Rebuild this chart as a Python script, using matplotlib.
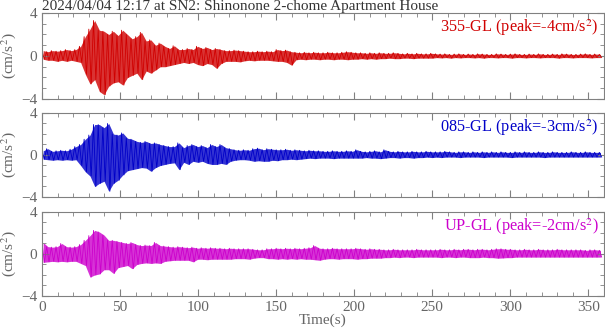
import numpy as np
import matplotlib
matplotlib.use('Agg')
import matplotlib.pyplot as plt
from matplotlib.ticker import MultipleLocator

plt.rcParams['font.family'] = ['Liberation Serif', 'DejaVu Serif']
plt.rcParams['mathtext.fontset'] = 'stix'

# Envelope (max / min) of each trace, read every 3 s from the picture
t_bins = np.arange(0, 360, 3)

ns_hi = [0.5, 0.4, 0.5, 0.45, 0.5, 0.6, 0.5, 0.6,
         0.9, 1.8, 2.5, 3.3, 2.4, 2.3, 2.0, 2.3, 1.9, 2.4, 2.0, 1.6, 1.8, 2.2, 1.4, 1.5,
         1.0, 1.2, 0.9, 0.7, 0.95, 0.6, 0.6, 0.7, 0.6, 0.9, 0.7, 0.8, 0.6, 0.7, 0.6, 0.5,
         0.5, 0.55, 0.5, 0.45, 0.4, 0.4, 0.45, 0.4, 0.45, 0.4, 0.6, 0.5, 0.55, 0.4,
         0.35, 0.3, 0.35, 0.3, 0.35, 0.3, 0.3, 0.35, 0.3, 0.3, 0.35, 0.4,
         0.35, 0.3, 0.3, 0.25, 0.3, 0.25, 0.3, 0.25, 0.25, 0.3, 0.25, 0.2, 0.25, 0.2, 0.25, 0.2, 0.2, 0.25,
         0.2, 0.18, 0.2, 0.15, 0.18, 0.2, 0.15, 0.18, 0.15, 0.2, 0.18, 0.15, 0.15, 0.2, 0.18, 0.15, 0.18, 0.2,
         0.15, 0.15, 0.18, 0.15, 0.2, 0.15, 0.15, 0.18, 0.15, 0.2, 0.18, 0.15, 0.15, 0.18, 0.2, 0.15, 0.18, 0.15]
ns_lo = [-0.3, -0.4, -0.4, -0.5, -0.4, -0.5, -0.4, -0.5,
         -0.6, -1.7, -2.6, -2.2, -3.3, -3.6, -2.8, -2.5, -2.4, -2.7, -2.0, -1.8, -1.6, -2.2, -1.4, -1.6,
         -1.3, -1.0, -1.0, -0.9, -0.8, -0.7, -0.6, -0.7, -0.6, -0.8, -0.9, -0.7, -0.8, -1.15, -0.7, -0.5,
         -0.5, -0.5, -0.55, -0.45, -0.4, -0.45, -0.4, -0.4, -0.4, -0.45, -0.5, -0.5, -0.6, -0.85,
         -0.35, -0.3, -0.35, -0.3, -0.3, -0.35, -0.3, -0.3, -0.35, -0.3, -0.3, -0.35,
         -0.3, -0.3, -0.25, -0.3, -0.25, -0.3, -0.25, -0.25, -0.2, -0.25, -0.25, -0.2, -0.2, -0.25, -0.2, -0.2, -0.2, -0.2,
         -0.15, -0.18, -0.15, -0.2, -0.15, -0.18, -0.15, -0.15, -0.18, -0.15, -0.2, -0.15, -0.15, -0.18, -0.15, -0.15, -0.2, -0.15,
         -0.15, -0.18, -0.15, -0.15, -0.18, -0.15, -0.15, -0.15, -0.2, -0.15, -0.15, -0.18, -0.15, -0.15, -0.15, -0.18, -0.15, -0.15]

ew_hi = [0.4, 0.6, 0.35, 0.4, 0.45, 0.4, 0.55, 0.8,
         1.0, 1.5, 1.9, 2.9, 2.9, 2.6, 3.0, 2.0, 1.9, 2.1, 1.6, 1.5, 1.3, 1.2, 1.3, 1.1,
         1.15, 1.0, 0.9, 0.8, 0.8, 1.15, 0.7, 0.9, 1.0, 0.8, 0.9, 0.7, 1.0, 0.8, 1.0, 0.7,
         0.6, 0.5, 0.45, 0.5, 0.45, 0.6, 0.65, 0.5, 0.6, 0.55, 0.5, 0.5, 0.55, 0.45,
         0.5, 0.45, 0.4, 0.45, 0.4, 0.4, 0.35, 0.35, 0.4, 0.35, 0.35, 0.4,
         0.35, 0.5, 0.35, 0.3, 0.35, 0.4, 0.3, 0.5, 0.35, 0.3, 0.35, 0.3, 0.3, 0.35, 0.3, 0.3, 0.35, 0.3,
         0.3, 0.3, 0.35, 0.3, 0.25, 0.3, 0.3, 0.25, 0.3, 0.25, 0.3, 0.25, 0.3, 0.25, 0.3, 0.25, 0.25, 0.3,
         0.25, 0.3, 0.25, 0.25, 0.3, 0.25, 0.25, 0.3, 0.25, 0.25, 0.25, 0.3, 0.25, 0.25, 0.3, 0.25, 0.25, 0.25]
ew_lo = [-0.4, -0.45, -0.5, -0.45, -0.5, -0.45, -0.5, -0.45,
         -1.0, -1.6, -2.0, -3.0, -2.7, -2.5, -3.45, -2.7, -2.4, -1.9, -1.5, -1.4, -1.3, -1.2, -1.25, -1.55,
         -1.2, -1.0, -0.9, -0.8, -0.75, -1.4, -0.7, -0.9, -0.6, -0.7, -0.6, -0.8, -0.9, -0.9, -0.8, -0.9,
         -0.6, -0.5, -0.45, -0.45, -0.5, -0.6, -0.55, -0.6, -0.6, -0.5, -0.55, -0.45, -0.45, -0.4,
         -0.45, -0.4, -0.35, -0.3, -0.35, -0.3, -0.3, -0.3, -0.35, -0.3, -0.3, -0.3,
         -0.3, -0.3, -0.3, -0.25, -0.3, -0.3, -0.35, -0.3, -0.25, -0.25, -0.3, -0.25, -0.25, -0.3, -0.25, -0.25, -0.2, -0.25,
         -0.2, -0.25, -0.2, -0.2, -0.2, -0.25, -0.2, -0.2, -0.2, -0.2, -0.25, -0.2, -0.2, -0.2, -0.2, -0.2, -0.25, -0.2,
         -0.2, -0.2, -0.2, -0.2, -0.2, -0.25, -0.2, -0.2, -0.2, -0.2, -0.2, -0.2, -0.2, -0.2, -0.2, -0.2, -0.2, -0.2]

ud_hi = [1.1, 0.7, 0.65, 0.7, 1.0, 0.7, 0.65, 0.7,
         0.9, 1.3, 1.75, 2.25, 2.1, 1.8, 1.3, 1.3, 1.2, 1.1, 1.0, 1.1, 0.9, 0.8, 0.85, 0.8,
         1.1, 0.8, 0.75, 0.7, 0.65, 0.7, 0.65, 0.6, 0.65, 0.55, 0.6, 0.55, 0.6, 0.55, 0.55, 0.5,
         0.55, 0.5, 0.5, 0.5, 0.5, 0.45, 0.4, 0.4, 0.5, 0.5, 0.55, 0.5, 0.55, 0.5,
         0.55, 0.5, 0.55, 0.6, 0.8, 0.55, 0.5, 0.5, 0.55, 0.5, 0.5, 0.5,
         0.5, 0.55, 0.5, 0.45, 0.5, 0.45, 0.45, 0.4, 0.4, 0.45, 0.4, 0.4, 0.4, 0.4, 0.45, 0.4, 0.4, 0.4,
         0.4, 0.45, 0.4, 0.4, 0.45, 0.4, 0.45, 0.45, 0.4, 0.45, 0.45, 0.4, 0.45, 0.5, 0.5, 0.45, 0.45, 0.4,
         0.4, 0.45, 0.4, 0.4, 0.45, 0.4, 0.4, 0.4, 0.45, 0.4, 0.4, 0.4, 0.4, 0.4, 0.35, 0.4, 0.4, 0.35]
ud_lo = [-0.8, -0.75, -0.7, -0.75, -0.7, -0.75, -0.7, -0.7,
         -0.9, -1.1, -2.2, -2.0, -1.9, -1.5, -1.5, -1.85, -1.3, -1.2, -1.1, -1.4, -1.0, -0.9, -0.85, -0.9,
         -0.85, -0.9, -0.7, -0.65, -0.6, -0.6, -0.6, -0.6, -0.75, -0.5, -0.5, -0.55, -0.5, -0.5, -0.5, -0.5,
         -0.5, -0.45, -0.45, -0.45, -0.5, -0.4, -0.35, -0.35, -0.45, -0.45, -0.5, -0.45, -0.5, -0.45,
         -0.5, -0.45, -0.5, -0.5, -0.55, -0.6, -0.5, -0.45, -0.45, -0.5, -0.45, -0.45,
         -0.45, -0.5, -0.45, -0.45, -0.4, -0.4, -0.4, -0.35, -0.35, -0.3, -0.35, -0.3, -0.3, -0.35, -0.3, -0.3, -0.3, -0.3,
         -0.3, -0.35, -0.3, -0.3, -0.35, -0.3, -0.3, -0.35, -0.35, -0.35, -0.3, -0.35, -0.35, -0.4, -0.38, -0.35, -0.35, -0.3,
         -0.3, -0.3, -0.3, -0.3, -0.3, -0.3, -0.3, -0.3, -0.3, -0.3, -0.3, -0.3, -0.3, -0.3, -0.3, -0.3, -0.3, -0.3]

components = ['355-GL', '085-GL', 'UP-GL']
peaks = [-4, -3, -2]
colors = ['#d00000', '#0000c8', '#cc00cc']
highs = [ns_hi, ew_hi, ud_hi]
lows = [ns_lo, ew_lo, ud_lo]

title = '2024/04/04 12:17 at SN2: Shinonone 2-chome Apartment House'

fig = plt.figure(figsize=(6.05, 3.34), dpi=100)
boxes = [(0.0694, 0.7036, 0.929, 0.2575),
         (0.0694, 0.4102, 0.929, 0.2515),
         (0.0694, 0.1138, 0.929, 0.2515)]
grey = '#808080'

for i in range(3):
    ax = fig.add_axes(boxes[i])
    # band for the envelope, then a thin zigzag between max and min of each bin
    ax.fill_between(t_bins + 0.75, lows[i], highs[i], color=colors[i], alpha=0.8, lw=0)
    x = np.empty(2 * len(t_bins))
    y = np.empty(2 * len(t_bins))
    x[0::2] = t_bins
    x[1::2] = t_bins + 1.5
    y[0::2] = highs[i]
    y[1::2] = lows[i]
    ax.plot(x, y, color=colors[i], lw=0.6)
    ax.set_xlim(0, 360)
    ax.set_ylim(-4, 4)
    ax.set_yticks([-4, 0, 4])
    ax.yaxis.set_minor_locator(MultipleLocator(1))
    ax.xaxis.set_major_locator(MultipleLocator(50))
    ax.xaxis.set_minor_locator(MultipleLocator(10))
    ax.tick_params(which='both', direction='in', top=True, right=True,
                   color=grey, labelcolor='#666666', labelsize=11)
    ax.tick_params(which='major', length=5, width=0.8)
    ax.tick_params(which='minor', length=3, width=0.6)
    for s in ax.spines.values():
        s.set_color(grey)
    if i < 2:
        ax.set_xticklabels([])
    else:
        ax.set_xlabel('Time(s)', fontsize=11, color='#666666', labelpad=0)
    ax.set_ylabel('(cm/s$^2$)', fontsize=11, color='#666666')
    ax.yaxis.set_label_coords(-0.043, 0.5)
    ax.text(0.99, 0.95, components[i] + ' (peak=' + str(peaks[i]) + 'cm/s$^2$)',
            transform=ax.transAxes, ha='right', va='top', color=colors[i], fontsize=11.7)
    if i == 0:
        ax.set_title(title, loc='left', fontsize=11, color='#333333', pad=0)

fig.savefig('out.png', dpi=100)
